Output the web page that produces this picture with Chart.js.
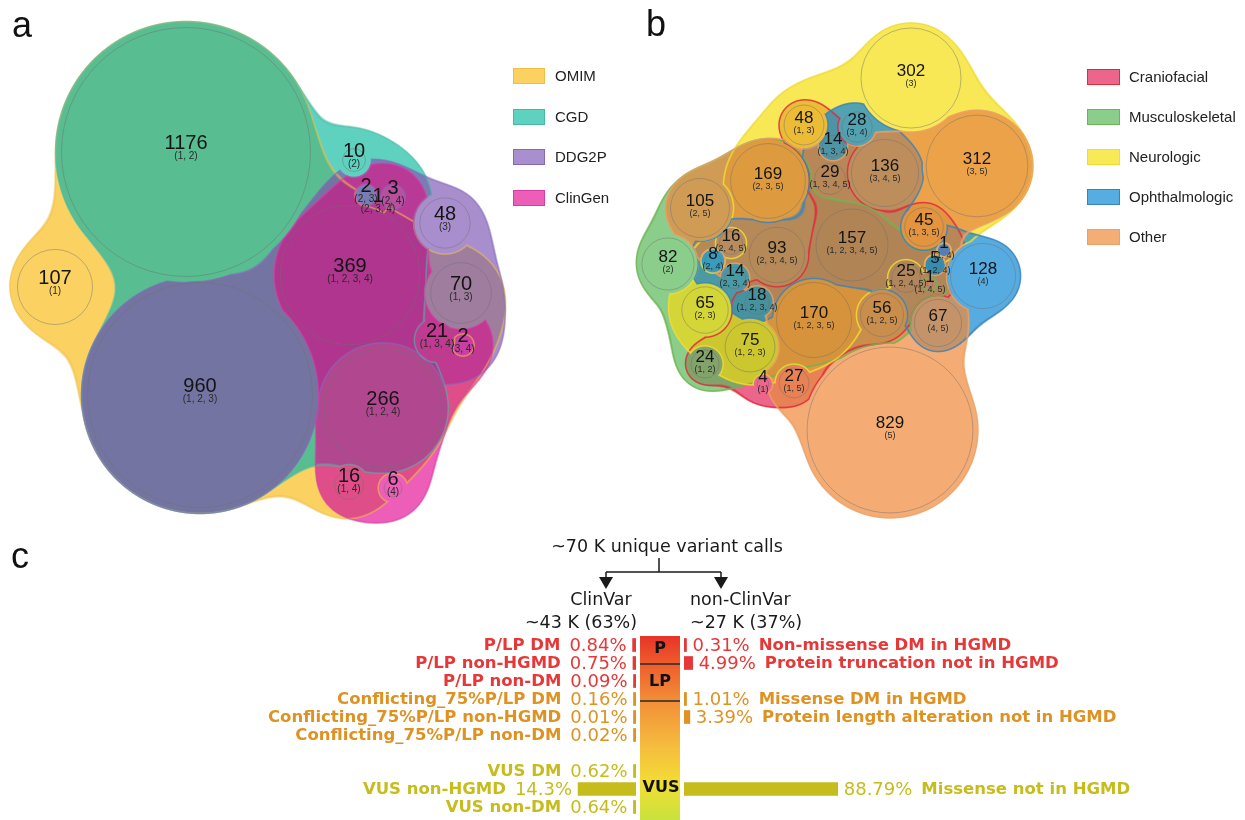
<!DOCTYPE html>
<html>
<head>
<meta charset="utf-8">
<title>Gene lists, phenotype groups and variant classes</title>
<script src="https://cdn.jsdelivr.net/npm/chart.js@4.4.1/dist/chart.umd.min.js"></script>
<style>
  html, body { margin: 0; padding: 0; background: #fff; }
  #page { position: relative; width: 1245px; height: 820px; overflow: hidden; }
  .panel { position: absolute; }
</style>
</head>
<body>
<div id="page">
  <div class="panel" style="left:0;top:0;width:640px;height:530px"><canvas id="vennA"></canvas></div>
  <div class="panel" style="left:630px;top:0;width:615px;height:530px"><canvas id="vennB"></canvas></div>
  <div class="panel" style="left:0;top:530px;width:1245px;height:290px"><canvas id="barsLeft"></canvas></div>
  <div class="panel" style="left:0;top:530px;width:1245px;height:290px"><canvas id="barsRight"></canvas></div>
</div>
<script>
// ---- panel a: overlap of gene lists ----
const setsA = ['OMIM', 'CGD', 'DDG2P', 'ClinGen'];
const countsA = [1176, 960, 369, 266, 107, 70, 48, 21, 16, 10, 6, 3, 2, 2, 1];
const groupsA = ['1, 2', '1, 2, 3', '1, 2, 3, 4', '1, 2, 4', '1', '1, 3', '3', '1, 3, 4',
                 '1, 4', '2', '4', '2, 4', '2, 3', '3, 4', '2, 3, 4'];
const xA = [186, 200, 350, 383, 55, 461, 445, 437, 349, 354, 393, 393, 366, 463, 378];
const yA = [152, 395, 275, 408, 287, 293, 223, 340, 485, 160, 488, 197, 195, 345, 205];

// ---- panel b: overlap of phenotype groups ----
const setsB = ['Craniofacial', 'Musculoskeletal', 'Neurologic', 'Ophthalmologic', 'Other'];
const countsB = [829, 312, 302, 170, 169, 157, 136, 128, 105, 93, 82, 75, 67, 65, 56, 48,
                 45, 29, 28, 27, 25, 24, 18, 16, 14, 14, 8, 5, 4, 1, 1];
const groupsB = ['5', '3, 5', '3', '1, 2, 3, 5', '2, 3, 5', '1, 2, 3, 4, 5', '3, 4, 5', '4',
                 '2, 5', '2, 3, 4, 5', '2', '1, 2, 3', '4, 5', '2, 3', '1, 2, 5', '1, 3',
                 '1, 3, 5', '1, 3, 4, 5', '3, 4', '1, 5', '1, 2, 4, 5', '1, 2', '1, 2, 3, 4',
                 '2, 4, 5', '1, 3, 4', '2, 3, 4', '2, 4', '1, 2, 4', '1', '1, 4', '1, 4, 5'];
const xB = [260, 347, 281, 184, 138, 222, 255, 353, 70, 147, 38, 120, 308, 75, 252, 174,
            294, 200, 227, 164, 276, 75, 127, 101, 203, 105, 83, 305, 133, 314, 300];
const yB = [430, 166, 78, 320, 181, 245, 173, 276, 208, 255, 264, 347, 323, 310, 315, 125,
            227, 179, 127, 383, 278, 364, 302, 243, 146, 278, 261, 265, 384, 250, 284];

// ---- panel c: variant classes ----
const clinvarRows = ['P/LP DM', 'P/LP non-HGMD', 'P/LP non-DM', 'Conflicting_75%P/LP DM',
                     'Conflicting_75%P/LP non-HGMD', 'Conflicting_75%P/LP non-DM', '',
                     'VUS DM', 'VUS non-HGMD', 'VUS non-DM'];
const clinvarPct = [0.84, 0.75, 0.09, 0.16, 0.01, 0.02, null, 0.62, 14.3, 0.64];
const otherRows = ['Non-missense DM in HGMD', 'Protein truncation not in HGMD', '',
                   'Missense DM in HGMD', 'Protein length alteration not in HGMD', '', '', '',
                   'Missense not in HGMD', ''];
const otherPct = [0.31, 4.99, null, 1.01, 3.39, null, null, null, 88.79, null];
const rowTier = ['P/LP', 'P/LP', 'P/LP', 'Conflicting', 'Conflicting', 'Conflicting', '',
                 'VUS', 'VUS', 'VUS'];

const tierColor = { 'P/LP': 'rgb(230,56,56)', 'Conflicting': 'rgb(222,146,34)', 'VUS': 'rgb(198,188,28)', '': '#fff' };
const rowColors = rowTier.map(t => tierColor[t]);

const parseRgb = s => s.match(/\d+/g).map(Number);

function smin(a, b, k) {
  const h = Math.max(k - Math.abs(a - b), 0) / k;
  return Math.min(a, b) - h * h * k * 0.25;
}

// soft blobs around the circles of each set, painted per pixel
function regionLayer(chart, cfg) {
  const els = chart.getDatasetMeta(0).data;
  const n = els.length;
  const cx = els.map(e => e.x), cy = els.map(e => e.y), cr = els.map(e => e.options.radius);
  const nSets = cfg.sets.length;
  const inSet = cfg.groups.map(g => g.split(',').map(t => Number(t) - 1));
  const members = [], others = [];
  for (let s = 0; s < nSets; s++) {
    members.push([]); others.push([]);
    for (let i = 0; i < n; i++) (inSet[i].includes(s) ? members[s] : others[s]).push(i);
  }
  const fills = cfg.fills.map(parseRgb), lines = cfg.lines.map(parseRgb);
  const W = chart.width, H = chart.height;
  const layer = document.createElement('canvas');
  layer.width = W; layer.height = H;
  const lctx = layer.getContext('2d');
  const img = lctx.createImageData(W, H);
  const px = img.data;
  const dc = new Float64Array(n), ds = new Float64Array(nSets);
  const { smooth, pad, gap, alpha, darken, lineAlpha } = cfg.region;
  const reach = pad + Math.max(...smooth);
  for (let y = 0; y < H; y++) {
    for (let x = 0; x < W; x++) {
      let near = Infinity;
      for (let i = 0; i < n; i++) {
        const dx = x + 0.5 - cx[i], dy = y + 0.5 - cy[i];
        dc[i] = Math.sqrt(dx * dx + dy * dy) - cr[i];
        if (dc[i] < near) near = dc[i];
      }
      if (near > reach) continue;
      let r = 255, g = 255, b = 255, depth = 0, any = false;
      for (let s = 0; s < nSets; s++) {
        const k = smooth[s];
        let u = Infinity;
        for (const i of members[s]) u = smin(u, dc[i] - pad, k);
        for (const i of others[s]) u = Math.max(u, gap - dc[i]);
        for (const i of members[s]) u = Math.min(u, dc[i] - 1);
        ds[s] = u;
        const c = Math.min(1, Math.max(0, 0.5 - u));
        if (c > 0) {
          const a = alpha * c, f = fills[s];
          r += (f[0] - r) * a; g += (f[1] - g) * a; b += (f[2] - b) * a;
          depth += c; any = true;
        }
      }
      if (depth > 1) {
        const m = Math.pow(darken, depth - 1);
        r *= m; g *= m; b *= m;
      }
      for (let s = 0; s < nSets; s++) {
        const lc = Math.min(1, Math.max(0, 1.25 - Math.abs(ds[s]))) * lineAlpha;
        if (lc > 0) {
          const l = lines[s];
          r += (l[0] - r) * lc; g += (l[1] - g) * lc; b += (l[2] - b) * lc;
          any = true;
        }
      }
      if (!any) continue;
      const o = (y * W + x) * 4;
      px[o] = r; px[o + 1] = g; px[o + 2] = b; px[o + 3] = 255;
    }
  }
  lctx.putImageData(img, 0, 0);
  return layer;
}

function vennPlugins(cfg) {
  return [{
    id: 'regions',
    beforeDatasetsDraw(chart) {
      if (!chart.$regions) chart.$regions = regionLayer(chart, cfg);
      chart.ctx.drawImage(chart.$regions, 0, 0);
    }
  }, {
    id: 'vennText',
    afterDraw(chart) {
      const ctx = chart.ctx;
      ctx.save();
      ctx.textAlign = 'center';
      ctx.textBaseline = 'middle';
      chart.getDatasetMeta(0).data.forEach((el, i) => {
        ctx.fillStyle = '#141414';
        ctx.font = cfg.numFont;
        ctx.fillText(String(cfg.counts[i]), el.x, el.y + cfg.numDy);
        ctx.fillStyle = '#2a2a2a';
        ctx.font = cfg.subFont;
        ctx.fillText('(' + cfg.groups[i] + ')', el.x, el.y + cfg.subDy);
      });
      // legend
      const lg = cfg.legend;
      ctx.textAlign = 'left';
      ctx.font = '15px "Liberation Sans", Arial, sans-serif';
      cfg.sets.forEach((name, s) => {
        const yc = lg.y[s];
        ctx.globalAlpha = cfg.region.alpha;
        ctx.fillStyle = cfg.fills[s];
        ctx.fillRect(lg.x, yc - 8, lg.w, 16);
        ctx.globalAlpha = 1;
        ctx.strokeStyle = cfg.lines[s];
        ctx.lineWidth = 1;
        ctx.strokeRect(lg.x + 0.5, yc - 7.5, lg.w - 1, 15);
        ctx.fillStyle = '#222';
        ctx.fillText(name, lg.textX, yc + 1);
      });
      // panel letter
      ctx.fillStyle = '#111';
      ctx.font = '36px "Liberation Sans", Arial, sans-serif';
      ctx.textBaseline = 'alphabetic';
      ctx.fillText(cfg.letter[0], cfg.letter[1], cfg.letter[2]);
      ctx.restore();
    }
  }];
}

function vennChart(id, cfg) {
  const canvas = document.getElementById(id);
  const box = canvas.parentNode;
  return new Chart(canvas, {
    type: 'bubble',
    data: {
      datasets: [{
        data: cfg.counts.map((v, i) => ({ x: cfg.x[i], y: cfg.y[i], r: cfg.k * Math.sqrt(v) })),
        backgroundColor: 'rgba(0,0,0,0)',
        borderColor: 'rgba(110,110,110,0.45)',
        borderWidth: 1,
        clip: false
      }]
    },
    options: {
      responsive: true,
      maintainAspectRatio: false,
      animation: false,
      events: [],
      layout: { padding: 0, autoPadding: false },
      scales: {
        x: { type: 'linear', min: 0, max: box.clientWidth, display: false },
        y: { type: 'linear', min: 0, max: box.clientHeight, reverse: true, display: false }
      },
      plugins: { legend: { display: false }, tooltip: { enabled: false } }
    },
    plugins: vennPlugins(cfg)
  });
}

vennChart('vennA', {
  sets: setsA, counts: countsA, groups: groupsA, x: xA, y: yA, k: 3.63,
  fills: ['rgb(250,195,45)', 'rgb(40,195,170)', 'rgb(140,105,190)', 'rgb(230,40,160)'],
  lines: ['rgb(238,190,70)', 'rgb(70,185,165)', 'rgb(130,105,185)', 'rgb(215,60,160)'],
  region: { smooth: [95, 80, 80, 80], pad: 6, gap: 6, alpha: 0.75, darken: 0.95, lineAlpha: 0.6 },
  numFont: '20px "Liberation Sans", Arial, sans-serif',
  subFont: '10px "Liberation Sans", Arial, sans-serif',
  numDy: -9, subDy: 4,
  legend: { x: 513, w: 32, textX: 555, y: [76, 117, 157, 198] },
  letter: ['a', 12, 37]
});

vennChart('vennB', {
  sets: setsB, counts: countsB, groups: groupsB, x: xB, y: yB, k: 2.88,
  fills: ['rgb(230,50,100)', 'rgb(100,190,100)', 'rgb(245,225,30)', 'rgb(30,145,215)', 'rgb(240,145,70)'],
  lines: ['rgb(225,40,60)', 'rgb(110,180,80)', 'rgb(240,220,50)', 'rgb(60,130,185)', 'rgb(235,160,100)'],
  region: { smooth: [45, 60, 80, 50, 60], pad: 5, gap: 4, alpha: 0.75, darken: 0.97, lineAlpha: 0.85 },
  numFont: '17px "Liberation Sans", Arial, sans-serif',
  subFont: '9px "Liberation Sans", Arial, sans-serif',
  numDy: -7, subDy: 6,
  legend: { x: 457, w: 33, textX: 499, y: [77, 117, 157, 197, 237] },
  letter: ['b', 16, 36]
});

// ---- panel c ----
const pctFont = '18px "DejaVu Sans", Verdana, sans-serif';
const nameFont = 'bold 16.5px "DejaVu Sans", Verdana, sans-serif';
const headFont = '17.5px "DejaVu Sans", Verdana, sans-serif';

const clinvarText = {
  id: 'clinvarText',
  afterDraw(chart) {
    const ctx = chart.ctx;
    ctx.save();
    // row labels to the left of each bar
    ctx.textAlign = 'right';
    ctx.textBaseline = 'middle';
    chart.getDatasetMeta(0).data.forEach((bar, i) => {
      const v = clinvarPct[i];
      if (v == null) return;
      ctx.fillStyle = rowColors[i];
      ctx.font = pctFont;
      const pct = v + '%';
      const xr = bar.x - 6;
      ctx.fillText(pct, xr, bar.y + 1);
      const w = ctx.measureText(pct).width;
      ctx.font = nameFont;
      ctx.fillText(clinvarRows[i], xr - w - 9, bar.y + 1);
    });

    // header and split arrows
    ctx.fillStyle = '#1a1a1a';
    ctx.font = headFont;
    ctx.textAlign = 'center';
    ctx.fillText('~70 K unique variant calls', 667, 17);
    ctx.strokeStyle = '#1a1a1a';
    ctx.lineWidth = 1.5;
    ctx.beginPath();
    ctx.moveTo(659, 28); ctx.lineTo(659, 42);
    ctx.moveTo(606, 42); ctx.lineTo(721, 42);
    ctx.moveTo(606, 42); ctx.lineTo(606, 48);
    ctx.moveTo(721, 42); ctx.lineTo(721, 48);
    ctx.stroke();
    [606, 721].forEach(ax => {
      ctx.beginPath();
      ctx.moveTo(ax - 7, 47); ctx.lineTo(ax + 7, 47); ctx.lineTo(ax, 59);
      ctx.closePath();
      ctx.fill();
    });
    ctx.fillText('ClinVar', 601, 70);
    ctx.textAlign = 'right';
    ctx.fillText('~43 K (63%)', 637, 93);
    ctx.textAlign = 'left';
    ctx.fillText('non-ClinVar', 690, 70);
    ctx.fillText('~27 K (37%)', 690, 93);

    // pathogenicity scale between the two sides
    const top = chart.chartArea.top, bottom = chart.height;
    const grad = ctx.createLinearGradient(0, top, 0, bottom);
    grad.addColorStop(0, 'rgb(232,52,38)');
    grad.addColorStop(0.15, 'rgb(238,92,44)');
    grad.addColorStop(0.35, 'rgb(242,142,56)');
    grad.addColorStop(0.6, 'rgb(246,188,62)');
    grad.addColorStop(0.8, 'rgb(242,222,52)');
    grad.addColorStop(1, 'rgb(200,226,60)');
    ctx.fillStyle = grad;
    ctx.fillRect(640, top, 40, bottom - top);
    ctx.strokeStyle = '#2a2a2a';
    ctx.lineWidth = 1.5;
    ctx.beginPath();
    ctx.moveTo(640, 134); ctx.lineTo(680, 134);
    ctx.moveTo(640, 171); ctx.lineTo(680, 171);
    ctx.stroke();
    ctx.fillStyle = '#111';
    ctx.font = 'bold 16px "DejaVu Sans", Verdana, sans-serif';
    ctx.textAlign = 'center';
    ctx.fillText('P', 660, 119);
    ctx.fillText('LP', 660, 152);
    ctx.fillText('VUS', 661, 258);

    ctx.font = '36px "Liberation Sans", Arial, sans-serif';
    ctx.textAlign = 'left';
    ctx.textBaseline = 'alphabetic';
    ctx.fillText('c', 11, 38);
    ctx.restore();
  }
};

const otherText = {
  id: 'otherText',
  afterDraw(chart) {
    const ctx = chart.ctx;
    ctx.save();
    ctx.textAlign = 'left';
    ctx.textBaseline = 'middle';
    chart.getDatasetMeta(0).data.forEach((bar, i) => {
      const v = otherPct[i];
      if (v == null) return;
      ctx.fillStyle = rowColors[i];
      ctx.font = pctFont;
      const pct = v + '%';
      const xl = bar.x + 6;
      ctx.fillText(pct, xl, bar.y + 1);
      const w = ctx.measureText(pct).width;
      ctx.font = nameFont;
      ctx.fillText(otherRows[i], xl + w + 9, bar.y + 1);
    });
    ctx.restore();
  }
};

function barOptions(pad, axisMax, reverse) {
  return {
    indexAxis: 'y',
    responsive: true,
    maintainAspectRatio: false,
    animation: false,
    events: [],
    layout: { padding: pad },
    scales: {
      x: { type: 'linear', min: 0, max: axisMax, reverse, display: false },
      y: { display: false }
    },
    plugins: { legend: { display: false }, tooltip: { enabled: false } }
  };
}

new Chart(document.getElementById('barsLeft'), {
  type: 'bar',
  data: {
    labels: clinvarRows,
    datasets: [{ data: clinvarPct, backgroundColor: rowColors, barThickness: 13, minBarLength: 2.5 }]
  },
  options: barOptions({ left: 0, right: 609, top: 106, bottom: 4 }, 157, true),
  plugins: [clinvarText]
});

new Chart(document.getElementById('barsRight'), {
  type: 'bar',
  data: {
    labels: otherRows,
    datasets: [{ data: otherPct, backgroundColor: rowColors, barThickness: 13, minBarLength: 2.5 }]
  },
  options: barOptions({ left: 684, right: 0, top: 106, bottom: 4 }, 324, false),
  plugins: [otherText]
});
</script>
</body>
</html>
